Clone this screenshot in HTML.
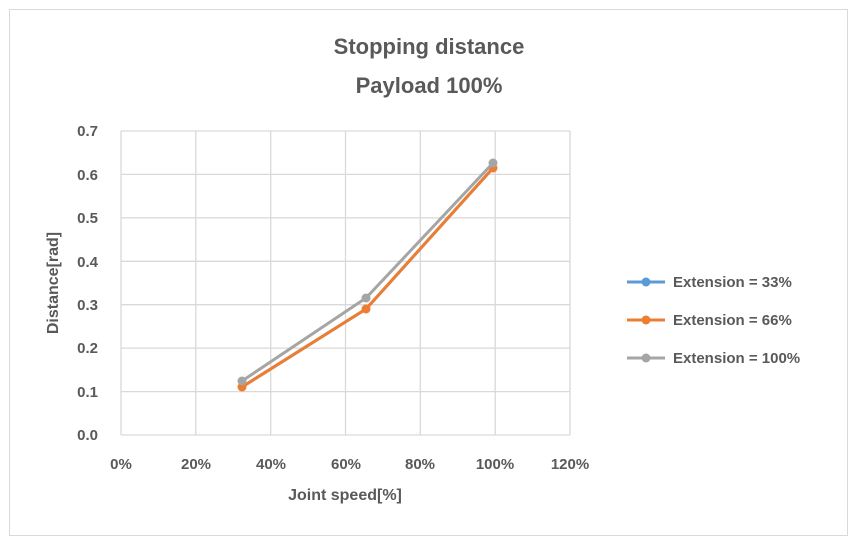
<!DOCTYPE html>
<html><head><style>
body{margin:0;background:#fff;}
svg text{font-family:"Liberation Sans",sans-serif;}
</style></head><body>
<svg width="858" height="546" xmlns="http://www.w3.org/2000/svg">
<rect x="9.5" y="9.5" width="838" height="526" fill="#fff" stroke="#d9d9d9"/>
<text x="429" y="54" text-anchor="middle" font-size="22" font-weight="bold" fill="#595959">Stopping distance</text>
<text x="429" y="93" text-anchor="middle" font-size="22" font-weight="bold" fill="#595959">Payload 100%</text>
<g stroke="#d9d9d9" stroke-width="1.3">
<line x1="121" y1="131" x2="570" y2="131"/>
<line x1="121" y1="174.4" x2="570" y2="174.4"/>
<line x1="121" y1="217.9" x2="570" y2="217.9"/>
<line x1="121" y1="261.3" x2="570" y2="261.3"/>
<line x1="121" y1="304.7" x2="570" y2="304.7"/>
<line x1="121" y1="348.1" x2="570" y2="348.1"/>
<line x1="121" y1="391.6" x2="570" y2="391.6"/>
<line x1="121" y1="435" x2="570" y2="435"/>
<line x1="121" y1="131" x2="121" y2="435"/>
<line x1="195.8" y1="131" x2="195.8" y2="435"/>
<line x1="270.7" y1="131" x2="270.7" y2="435"/>
<line x1="345.5" y1="131" x2="345.5" y2="435"/>
<line x1="420.3" y1="131" x2="420.3" y2="435"/>
<line x1="495.2" y1="131" x2="495.2" y2="435"/>
<line x1="570" y1="131" x2="570" y2="435"/>
</g>
<g font-size="15" font-weight="bold" fill="#595959" text-anchor="end">
<text x="98" y="136">0.7</text><text x="98" y="180">0.6</text><text x="98" y="223">0.5</text><text x="98" y="267">0.4</text><text x="98" y="310">0.3</text><text x="98" y="353">0.2</text><text x="98" y="397">0.1</text><text x="98" y="440">0.0</text>
</g>
<g font-size="15" font-weight="bold" fill="#595959" text-anchor="middle">
<text x="121" y="469">0%</text><text x="196" y="469">20%</text><text x="271" y="469">40%</text><text x="346" y="469">60%</text><text x="420" y="469">80%</text><text x="495" y="469">100%</text><text x="570" y="469">120%</text>
<text x="345" y="500" font-size="16">Joint speed[%]</text>
</g>
<text transform="translate(58,283) rotate(-90)" font-size="16" font-weight="bold" fill="#595959" text-anchor="middle">Distance[rad]</text>
<polyline points="242,387 366,309 493,168" fill="none" stroke="#5b9bd5" stroke-width="3"/>
<polyline points="242,387 366,309 493,168" fill="none" stroke="#ed7d31" stroke-width="3"/>
<g fill="#ed7d31"><circle cx="242" cy="387" r="4.5"/><circle cx="366" cy="309" r="4.5"/><circle cx="493" cy="168" r="4.5"/></g>
<polyline points="242,381 366,298 493,163" fill="none" stroke="#a5a5a5" stroke-width="3"/>
<g fill="#a5a5a5"><circle cx="242" cy="381" r="4.5"/><circle cx="366" cy="298" r="4.5"/><circle cx="493" cy="163" r="4.5"/></g>
<g font-size="15" font-weight="bold" fill="#595959">
<line x1="627" y1="282" x2="665" y2="282" stroke="#5b9bd5" stroke-width="3"/><circle cx="646" cy="282" r="4.5" fill="#5b9bd5"/>
<text x="673" y="287">Extension = 33%</text>
<line x1="627" y1="320" x2="665" y2="320" stroke="#ed7d31" stroke-width="3"/><circle cx="646" cy="320" r="4.5" fill="#ed7d31"/>
<text x="673" y="325">Extension = 66%</text>
<line x1="627" y1="358" x2="665" y2="358" stroke="#a5a5a5" stroke-width="3"/><circle cx="646" cy="358" r="4.5" fill="#a5a5a5"/>
<text x="673" y="363">Extension = 100%</text>
</g>
</svg>
</body></html>
